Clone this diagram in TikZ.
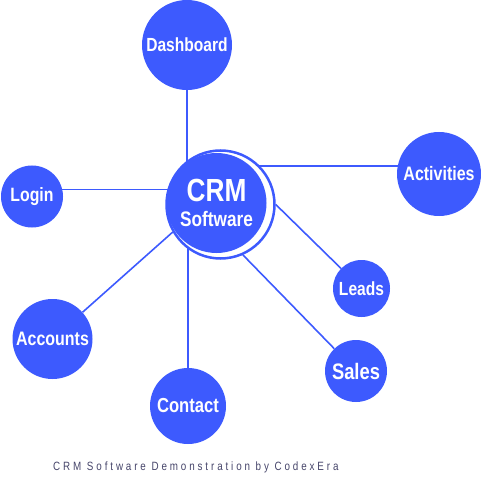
\documentclass[tikz,border=0pt]{standalone}
\usepackage{fontspec}
\setmainfont{Liberation Sans}
\newfontfamily\labelfont{Liberation Sans}[FakeStretch=0.82]
\newfontfamily\captionfont{Liberation Sans}[FakeStretch=0.82,LetterSpace=24]
\usetikzlibrary{backgrounds}
\definecolor{crmblue}{HTML}{3D5AFE}
\definecolor{captiongray}{HTML}{46456A}

\begin{document}
\begin{tikzpicture}[x=1pt,y=-1pt,
    topic/.style={circle,fill=crmblue,text=white,inner sep=0pt,font=\labelfont\bfseries},
    link/.style={draw=crmblue,line width=1.6pt}]
  \useasboundingbox (0,0) rectangle (481,478);
  % hub
  \node[circle,draw=crmblue,fill=white,line width=2.5pt,minimum size=108pt,inner sep=0pt] (crm) at (220.5,204.5) {};
  \node[topic,minimum size=100pt,align=center] (core) at (216.5,203)
    {{\fontsize{32}{30}\selectfont CRM}\\[9pt]{\fontsize{21}{20}\selectfont Software}};
  % topics
  \node[topic,minimum size=90pt] (dash) at (187,45) {\fontsize{19}{20}\selectfont Dashboard};
  \node[topic,minimum size=62pt] (login) at (32,196.5) {\fontsize{19.3}{20}\selectfont Login};
  \node[topic,minimum size=84pt] (act) at (439,174) {\fontsize{19.5}{20}\selectfont Activities};
  \node[topic,minimum size=57pt] (leads) at (361.5,288.5) {\fontsize{19}{20}\selectfont Leads};
  \node[topic,minimum size=62pt] (sales) at (356,371) {\fontsize{22.4}{22}\selectfont Sales};
  \node[topic,minimum size=76pt] (contact) at (188,406) {\fontsize{20.3}{20}\selectfont Contact};
  \node[topic,minimum size=80pt] (accounts) at (52.5,339) {\fontsize{19.5}{20}\selectfont Accounts};
  % caption
  \node[anchor=west,inner sep=0pt,text=captiongray,font=\captionfont\fontsize{12}{14}\selectfont] (caption) at (53,467) {CRM Software Demonstration by CodexEra};
  % links
  \begin{scope}[on background layer]
    \draw[link] (dash) -- (dash |- crm);
    \draw[link] (login.13) -- (login.13 -| crm);
    \draw[link] (act.169) -- (act.169 -| crm);
    \draw[link] (leads) -- (crm.east);
    \draw[link] (sales) -- (crm.-66);
    \draw[link] (contact) -- (contact |- crm);
    \draw[link] (accounts) -- (crm.210);
  \end{scope}
\end{tikzpicture}
\end{document}
